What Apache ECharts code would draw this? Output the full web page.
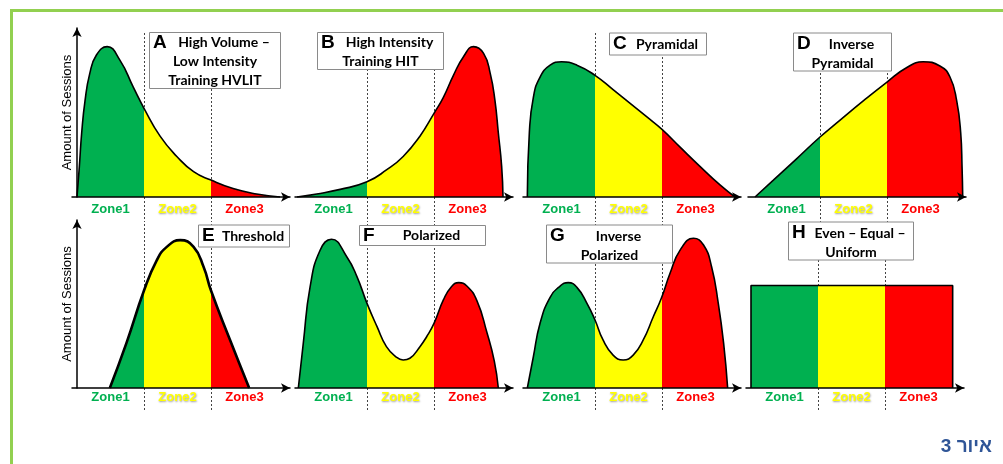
<!DOCTYPE html>
<html>
<head>
<meta charset="utf-8">
<title>Training intensity distributions</title>
<script src="https://cdn.jsdelivr.net/npm/echarts@6/dist/echarts.min.js"></script>
<style>
	html, body { margin: 0; padding: 0; background: #fff; }
	#main { width: 1003px; height: 464px; }
</style>
</head>
<body>
<div id="main"></div>
<script>
	// zones of the x axis
	const zones = ['Zone1', 'Zone2', 'Zone3']
	const zoneColors = ['#00B050', '#FFFF00', '#FF0000']

	// curves: [position along the zones (1 = one zone), relative amount of sessions]
	const curveA = [[0, 0], [0.035, 0.18], [0.07, 0.38], [0.12, 0.57], [0.19, 0.73], [0.29, 0.84], [0.45, 0.89], [0.64, 0.81], [0.84, 0.65], [1.0, 0.525], [1.24, 0.36], [1.49, 0.24], [1.74, 0.15], [2.0, 0.10], [2.33, 0.05], [2.68, 0.018], [3.03, 0]]
	const curveB = [[-0.045, 0], [0.25, 0.018], [0.6, 0.045], [1.0, 0.09], [1.29, 0.16], [1.54, 0.24], [1.79, 0.36], [2.0, 0.495], [2.14, 0.59], [2.29, 0.72], [2.44, 0.83], [2.59, 0.89], [2.74, 0.85], [2.84, 0.73], [2.91, 0.57], [2.96, 0.38], [3.01, 0.18], [3.03, 0]]
	const curveC = [[-0.01, 0], [0.02, 0.38], [0.08, 0.59], [0.18, 0.71], [0.33, 0.78], [0.5, 0.80], [0.73, 0.78], [1.0, 0.72], [1.27, 0.635], [1.52, 0.555], [1.77, 0.475], [2.0, 0.40], [2.27, 0.295], [2.57, 0.18], [2.87, 0.07], [3.09, 0]]
	const curveD = [[0.03, 0], [0.3, 0.098], [0.65, 0.226], [1.0, 0.355], [1.3, 0.455], [1.65, 0.57], [2.0, 0.68], [2.29, 0.765], [2.54, 0.80], [2.79, 0.775], [2.94, 0.71], [3.04, 0.57], [3.1, 0.38], [3.12, 0.18], [3.13, 0]]
	const curveE = [[0.49, 0], [0.74, 0.27], [1.0, 0.58], [1.19, 0.76], [1.34, 0.84], [1.54, 0.88], [1.74, 0.84], [1.89, 0.72], [2.0, 0.58], [2.28, 0.29], [2.57, 0]]
	const curveF = [[-0.025, 0], [0.05, 0.27], [0.15, 0.60], [0.3, 0.82], [0.47, 0.885], [0.7, 0.78], [0.85, 0.663], [1.0, 0.504], [1.15, 0.365], [1.29, 0.246], [1.44, 0.183], [1.54, 0.167], [1.64, 0.177], [1.79, 0.246], [1.89, 0.305], [2.0, 0.385], [2.14, 0.524], [2.26, 0.603], [2.37, 0.627], [2.49, 0.607], [2.64, 0.52], [2.79, 0.33], [2.9, 0.16], [2.96, 0]]
	const curveG = [[-0.01, 0], [0.08, 0.186], [0.18, 0.385], [0.33, 0.54], [0.48, 0.607], [0.6, 0.627], [0.73, 0.599], [0.88, 0.504], [1.0, 0.405], [1.12, 0.286], [1.27, 0.196], [1.42, 0.167], [1.57, 0.196], [1.72, 0.286], [1.87, 0.424], [1.99, 0.534], [2.12, 0.683], [2.27, 0.821], [2.47, 0.891], [2.62, 0.851], [2.74, 0.722], [2.84, 0.504], [2.92, 0.266], [2.98, 0]]
	const curveH = [[0, 0], [0, 0.61], [3.01, 0.61], [3.01, 0]]

	const letters = ['A', 'B', 'C', 'D', 'E', 'F', 'G', 'H']
	const boxLines = [
		['High Volume –', 'Low Intensity', 'Training HVLIT'],
		['High Intensity', 'Training HIT'],
		['Pyramidal'],
		['Inverse', 'Pyramidal'],
		['Threshold'],
		['Polarized'],
		['Inverse', 'Polarized'],
		['Even – Equal –', 'Uniform']
	]
	const yAxisName = 'Amount of Sessions'
	const caption = 'איור 3'

	const curves = [curveA, curveB, curveC, curveD, curveE, curveF, curveG, curveH]

	/*layout*/
	const sans = '"Liberation Sans", Arial, sans-serif'
	const zoneW = 67
	const zoneLeft = [77, 300, 528, 753, 77, 300, 528, 751]
	const plotTop = [28, 220], plotH = [169, 168]
	const guideTop = [33, 224], guideH = [189, 186]
	// box: left, top, width, height
	const boxPos = [[149, 32, 132, 60], [317, 32, 127, 41], [609, 33, 98, 23], [793, 33, 99, 42],
		[198, 225, 92, 23], [359, 225, 127, 22], [546, 225, 127, 42], [788, 222, 126, 42]]

	const grids = [], xAxes = [], yAxes = [], titles = []

	curves.forEach((c, i) => {
		const row = i < 4 ? 0 : 1
		const col = i % 4
		// plot grid
		grids.push({ left: zoneLeft[i] - 5, top: plotTop[row], width: 218, height: plotH[row], outerBoundsMode: 'none' })
		xAxes.push({
			type: 'value', gridIndex: i, min: -5 / zoneW, max: 213 / zoneW, z: 3,
			axisLine: { show: true, symbol: ['none', 'arrow'], symbolSize: [7, 9], lineStyle: { color: '#000', width: 1.5 } },
			axisTick: { show: false }, axisLabel: { show: false }, splitLine: { show: false }
		})
		yAxes.push({
			type: 'value', gridIndex: i, min: 0, max: 1, show: col === 0, z: 3,
			axisLine: { show: true, symbol: ['none', 'arrow'], symbolSize: [7, 9], lineStyle: { color: '#000', width: 1.5 } },
			axisTick: { show: false }, axisLabel: { show: false }, splitLine: { show: false },
			name: col === 0 ? yAxisName : '', nameLocation: 'middle', nameGap: -2, nameRotate: 90,
			nameTextStyle: { fontFamily: sans, fontSize: 13, color: '#000' }
		})
	})

	curves.forEach((c, i) => {
		const row = i < 4 ? 0 : 1
		// zone guide grid: dotted separators + zone names
		grids.push({ left: zoneLeft[i], top: guideTop[row], width: zoneW * 3, height: guideH[row], outerBoundsMode: 'none' })
		xAxes.push({
			type: 'category', gridIndex: 8 + i, data: zones, boundaryGap: true, z: 3,
			axisLine: { show: false }, axisTick: { show: false },
			axisLabel: {
				inside: true, margin: 6, interval: 0, hideOverlap: false,
				formatter: (v, k) => '{z' + k + '|' + v + '}',
				rich: {
					z0: { color: zoneColors[0], fontFamily: sans, fontWeight: 'bold', fontSize: 13 },
					z1: { color: zoneColors[1], fontFamily: sans, fontWeight: 'bold', fontSize: 13,
						textShadowColor: 'rgba(0,0,0,0.4)', textShadowBlur: 2, textShadowOffsetX: 0.5, textShadowOffsetY: 0.5 },
					z2: { color: zoneColors[2], fontFamily: sans, fontWeight: 'bold', fontSize: 13 }
				}
			},
			splitLine: { show: true, interval: 0, showMinLine: false, showMaxLine: false, lineStyle: { color: '#444', width: 1, type: [2, 2] } }
		})
		yAxes.push({ type: 'value', gridIndex: 8 + i, min: 0, max: 1, show: false })
	})

	/*label boxes*/
	boxPos.forEach((b, i) => {
		const [x, y, w, h] = b
		const lines = boxLines[i]
		const lh = 19
		const inner = w - 8
		const padV = Math.max(0, (h - 1 - lines.length * lh) / 2)
		const text = lines.map((s, k) => k === 0 ? '{L|' + letters[i] + '}{f|' + s + '}' : '{r|' + s + '}').join('\n')
		const txt = { fontFamily: 'Lato', fontWeight: 'bold', fontSize: 14, lineHeight: lh, color: '#000' }
		titles.push({
			left: x, top: y, padding: [padV, 4],
			borderColor: '#8a8a8a', borderWidth: 1, backgroundColor: '#fff',
			text: text,
			textStyle: {
				rich: {
					L: { fontFamily: sans, fontWeight: 'bold', fontSize: 19, width: 18, lineHeight: lh, color: '#000' },
					f: Object.assign({ width: inner - 18, align: 'center' }, txt),
					r: Object.assign({ width: inner, align: 'center' }, txt)
				}
			}
		})
	})
	titles.push({
		right: 6, top: 432,
		text: '\u202B' + caption + '\u202C',
		textStyle: { color: '#2F5597', fontSize: 19, fontWeight: 'bold', fontFamily: sans }
	})

	const chart = echarts.init(document.getElementById('main'))
	chart.setOption({
		animation: false,
		backgroundColor: '#fff',
		title: titles,
		grid: grids,
		xAxis: xAxes,
		yAxis: yAxes,
		visualMap: {
			type: 'piecewise', show: false, dimension: 0,
			seriesIndex: [0, 1, 2, 3, 4, 5, 6, 7],
			pieces: [
				{ lt: 1, color: zoneColors[0] },
				{ gte: 1, lt: 2, color: zoneColors[1] },
				{ gte: 2, color: zoneColors[2] }
			]
		},
		graphic: [{
			type: 'rect', silent: true, z: -1,
			shape: { x: 11.5, y: 10.5, width: 1200, height: 600 },
			style: { fill: null, stroke: '#92D050', lineWidth: 3 }
		}],
		series: curves.map((c, i) => ({
			type: 'line',
			xAxisIndex: i,
			yAxisIndex: i,
			data: c,
			smooth: i === 7 ? false : 0.5,
			showSymbol: false,
			silent: true,
			lineStyle: { color: '#000', width: i === 4 ? 2.6 : 1.6 },
			areaStyle: { opacity: 1 }
		}))
	})
</script>
</body>
</html>
